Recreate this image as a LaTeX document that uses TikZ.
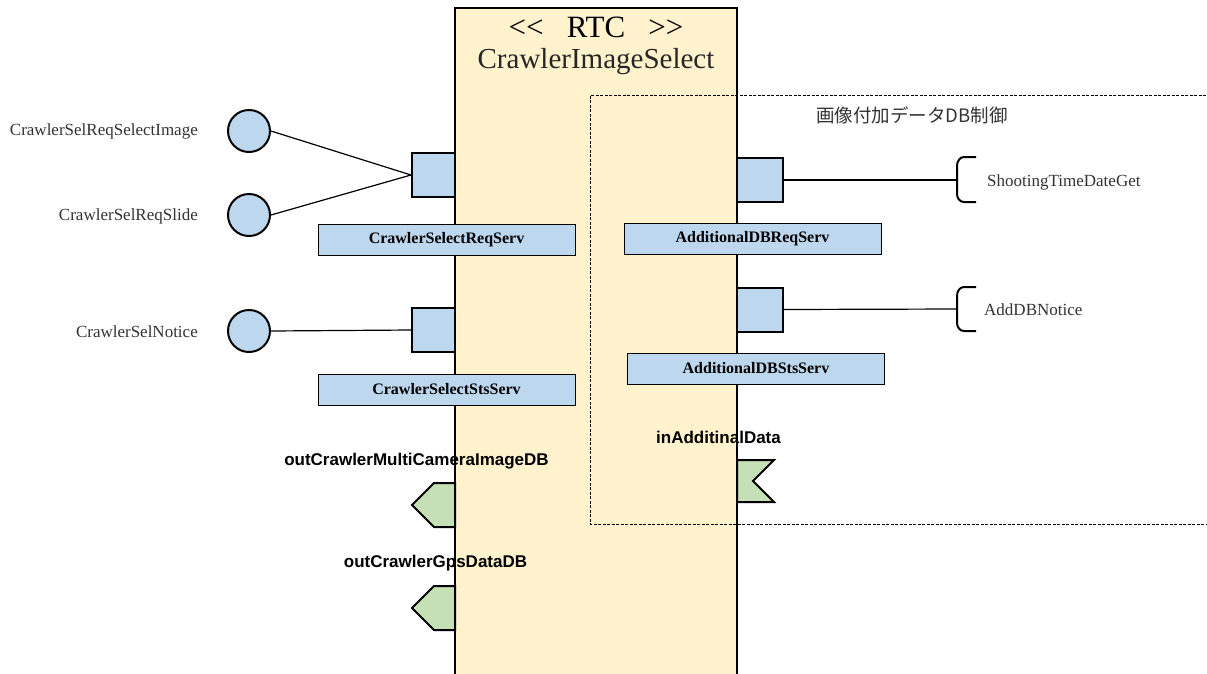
\documentclass[tikz,border=0pt]{standalone}
\usepackage{fontspec}
\setmainfont{Liberation Serif}
\newfontfamily\jpfont{Noto Sans CJK JP}
\newfontfamily\gothic{Liberation Sans}
\definecolor{rtcfill}{HTML}{FFF2CC}
\definecolor{portblue}{HTML}{BDD7EE}
\definecolor{portgreen}{HTML}{C5E0B4}
\begin{document}
\begin{tikzpicture}[x=1pt,y=-1pt,
  rtcbox/.style={draw, line width=2.4pt, fill=rtcfill},
  svport/.style={draw, line width=2pt, fill=portblue, minimum width=43pt, minimum height=44pt, inner sep=0pt},
  ifcircle/.style={draw, line width=2pt, fill=portblue, circle, minimum size=42pt, inner sep=0pt},
  servlabel/.style={draw, line width=0.8pt, fill=portblue, minimum width=257pt, minimum height=31pt, inner sep=0pt, font=\fontsize{16}{16}\selectfont\bfseries},
  iflabel/.style={font=\fontsize{17}{17}\selectfont, text=black!80, inner sep=0pt},
  dplabel/.style={font=\gothic\fontsize{17}{17}\selectfont\bfseries, inner sep=0pt},
  conn/.style={line width=1.2pt},
  dpport/.style={draw, line width=2pt, fill=portgreen, line join=miter}
]
\useasboundingbox (0,0) rectangle (1207,673);
\fill[white] (0,0) rectangle (1207,673);
% main component
\draw[rtcbox] (455,8) rectangle (737,690);
\node[font=\fontsize{31}{31}\selectfont] (st) at (596,27) {{<}{<}\hspace{0.75em}RTC\hspace{0.75em}{>}{>}};
\node[font=\fontsize{29}{29}\selectfont, text=black!85] (nm) at (596,62) {CrawlerImageSelect};
% dashed group
\draw[dashed, line width=0.6pt, dash pattern=on 3pt off 1.5pt] (1215,95) -- (590,95) -- (590,524) -- (1215,524);
\node[font=\jpfont\fontsize{18.5}{18.5}\selectfont, text=black!80, anchor=west, inner sep=0pt] (grp) at (816,115) {画像付加データDB制御};
% left service ports
\node[svport] (lp1) at (433.5,175) {};
\node[svport] (lp2) at (433.5,330) {};
\node[ifcircle] (c1) at (249,131) {};
\node[ifcircle] (c2) at (249,215) {};
\node[ifcircle] (c3) at (249,331) {};
\node[iflabel, anchor=east] (l1) at (198,131) {CrawlerSelReqSelectImage};
\node[iflabel, anchor=east] (l2) at (198,216) {CrawlerSelReqSlide};
\node[iflabel, anchor=east] (l3) at (198,332) {CrawlerSelNotice};
\draw[conn] (c1.east) -- (lp1.west);
\draw[conn] (c2.east) -- (lp1.west);
\draw[conn] (c3.east) -- (lp2.west);
\node[servlabel] (s1) at (446.5,239.5) {CrawlerSelectReqServ};
\node[servlabel] (s2) at (446.5,389.5) {CrawlerSelectStsServ};
% right service ports
\node[svport, minimum width=46pt] (rp1) at (760,180) {};
\node[svport, minimum width=46pt] (rp2) at (760,309.5) {};
\coordinate (b1) at (957,180);
\coordinate (b2) at (957,309);
\draw[line width=2pt] (976,157) -- (964,157) to[out=180,in=90] (957,166) -- (957,194) to[out=-90,in=180] (964,202) -- (976,202);
\draw[line width=2pt] (976,287) -- (964,287) to[out=180,in=90] (957,296) -- (957,323) to[out=-90,in=180] (964,331) -- (976,331);
\draw[conn] (rp1.east) -- (b1);
\draw[conn] (rp2.east) -- (b2);
\node[iflabel, anchor=west] (r1) at (987,182) {ShootingTimeDateGet};
\node[iflabel, anchor=west] (r2) at (984,310) {AddDBNotice};
\node[servlabel] (s3) at (752.5,238.5) {AdditionalDBReqServ};
\node[servlabel] (s4) at (756,368.5) {AdditionalDBStsServ};
% data ports
\draw[dpport] (455,483) -- (434,483) -- (412,505) -- (434,527) -- (455,527) -- cycle;
\coordinate (o1) at (433,505);
\draw[dpport] (455,586) -- (434,586) -- (412,608) -- (434,630) -- (455,630) -- cycle;
\coordinate (o2) at (433,608);
\draw[dpport] (737,460) -- (774,460) -- (753,481) -- (774,502) -- (737,502) -- cycle;
\coordinate (i1) at (755,481);
\node[dplabel] (ol1) at (416.5,461) {outCrawlerMultiCameraImageDB};
\node[dplabel] (ol2) at (435.5,563) {outCrawlerGpsDataDB};
\node[dplabel] (il1) at (718.5,437) {inAdditinalData};
\end{tikzpicture}
\end{document}
